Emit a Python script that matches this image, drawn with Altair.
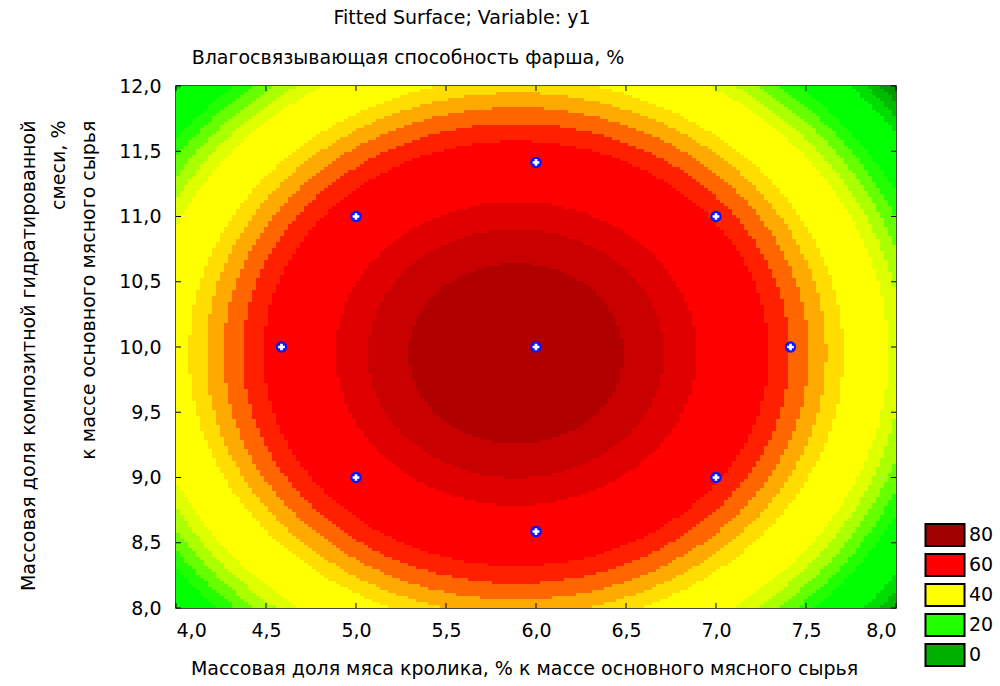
import numpy as np
import pandas as pd
import altair as alt

# ---------------- values ----------------
x_ticks = [4.0, 4.5, 5.0, 5.5, 6.0, 6.5, 7.0, 7.5, 8.0]
y_ticks = [8.0, 8.5, 9.0, 9.5, 10.0, 10.5, 11.0, 11.5, 12.0]

# experimental design points (central composite design)
design_x = [5.0, 5.0, 7.0, 7.0, 4.586, 7.414, 6.0, 6.0, 6.0]
design_y = [9.0, 11.0, 9.0, 11.0, 10.0, 10.0, 8.586, 11.414, 10.0]

# fitted surface: contours are concentric ellipses
surface_center_x = 5.89
surface_center_y = 9.95
surface_y_to_x_ratio = 1.16          # vertical semi-axis / horizontal semi-axis
# horizontal semi-axes of the colour boundaries (x units), from the centre outwards
contour_half_width = [0.596, 0.822, 1.003, 1.403, 1.518, 1.625, 1.722, 1.817,
                      2.067, 2.145, 2.220, 2.292, 2.363, 2.562, 2.625, 2.686, 2.747]
# colour of each band, from the centre outwards (one more than boundaries)
band_colors = ["#b00000", "#c80000", "#e00000", "#ff0000", "#ff2000", "#ff6600",
               "#ffaa00", "#ffdd00", "#ffff00", "#ddff00", "#aaff00", "#66ff00",
               "#22ff00", "#00ff00", "#00dd00", "#00bb00", "#009900", "#007a33"]

legend_labels = ["80", "60", "40", "20", "0"]
legend_colors = ["#a00000", "#ff0000", "#ffff00", "#22ff00", "#00b000"]

title_line1 = "Fitted Surface; Variable:  y1"
title_line2 = "Влагосвязывающая способность фарша, %"
x_title = "Массовая доля мяса кролика, % к массе основного мясного сырья"
y_title = ["Массовая доля композитной гидратированной", "смеси, %",
           "к массе основного мясного сырья"]

# ---------------- build the surface cells ----------------
nx, ny = 180, 174
xe = np.linspace(4.0, 8.0, nx + 1)
ye = np.linspace(8.0, 12.0, ny + 1)
xc = (xe[:-1] + xe[1:]) / 2
yc = (ye[:-1] + ye[1:]) / 2
radii = np.array(contour_half_width)
cells = []
for j in range(ny):
    r = np.sqrt((xc - surface_center_x) ** 2 +
                ((yc[j] - surface_center_y) / surface_y_to_x_ratio) ** 2)
    b = np.searchsorted(radii, r)
    start = 0
    for i in range(1, nx + 1):
        if i == nx or b[i] != b[start]:
            cells.append({"x": xe[start], "x2": xe[i], "y": ye[j], "y2": ye[j + 1],
                          "band": f"b{int(b[start]):02d}"})
            start = i
surf = pd.DataFrame(cells)
band_domain = [f"b{k:02d}" for k in range(len(band_colors))]

# ---------------- chart ----------------
W, H = 720, 522
FONT = "DejaVu Sans"
FS = 19
xs = alt.Scale(domain=[4.0, 8.0], nice=False, zero=False)
ys = alt.Scale(domain=[8.0, 12.0], nice=False, zero=False)
label_expr = "replace(format(datum.value, '.1f'), '.', ',')"

x_axis = alt.Axis(values=x_ticks, labelExpr=label_expr, title=x_title, ticks=False,
                  domain=False, grid=False, labelPadding=13, labelFontSize=FS,
                  labelFont=FONT, labelColor="black", titleFont=FONT,
                  titleFontSize=FS, titleFontWeight="normal", titleColor="black",
                  titleX=348, titleY=60, titleBaseline="middle", titleAlign="center")
y_axis = alt.Axis(values=y_ticks, labelExpr=label_expr, title=y_title, ticks=False,
                  domain=False, grid=False, labelPadding=15, labelFontSize=FS,
                  labelFont=FONT, labelColor="black", titleFont=FONT,
                  titleFontSize=FS, titleFontWeight="normal", titleColor="black",
                  titleAngle=270, titleAlign="right", titleBaseline="top",
                  titleX=-157, titleY=34, titleLineHeight=30)

heat = alt.Chart(surf).mark_rect(strokeWidth=0).encode(
    x=alt.X("x:Q", scale=xs, axis=x_axis),
    x2="x2:Q",
    y=alt.Y("y:Q", scale=ys, axis=y_axis),
    y2="y2:Q",
    fill=alt.Fill("band:N", scale=alt.Scale(domain=band_domain, range=band_colors),
                  legend=None),
)

xt = pd.DataFrame({"x": x_ticks})
yt = pd.DataFrame({"y": y_ticks})
tick_len = 5
ticks_bottom = alt.Chart(xt).mark_rule(color="black", strokeWidth=1).encode(
    x=alt.X("x:Q", scale=xs, axis=x_axis), y=alt.value(H), y2=alt.value(H - tick_len))
ticks_top = alt.Chart(xt).mark_rule(color="black", strokeWidth=1).encode(
    x=alt.X("x:Q", scale=xs, axis=x_axis), y=alt.value(0), y2=alt.value(tick_len))
ticks_left = alt.Chart(yt).mark_rule(color="black", strokeWidth=1).encode(
    y=alt.Y("y:Q", scale=ys, axis=y_axis), x=alt.value(0), x2=alt.value(tick_len))
ticks_right = alt.Chart(yt).mark_rule(color="black", strokeWidth=1).encode(
    y=alt.Y("y:Q", scale=ys, axis=y_axis), x=alt.value(W), x2=alt.value(W - tick_len))

pts = pd.DataFrame({"x": design_x, "y": design_y})
pts_outer = alt.Chart(pts).mark_point(shape="circle", filled=True, color="#0a14ff",
                                      size=130, opacity=1).encode(
    x=alt.X("x:Q", scale=xs, axis=x_axis), y=alt.Y("y:Q", scale=ys, axis=y_axis))
pts_inner = alt.Chart(pts).mark_point(shape="cross", filled=True, color="white",
                                      size=45, opacity=1).encode(
    x=alt.X("x:Q", scale=xs, axis=x_axis), y=alt.Y("y:Q", scale=ys, axis=y_axis))

t1 = alt.Chart(pd.DataFrame({"t": [title_line1]})).mark_text(
    font=FONT, fontSize=FS, color="black", align="center", baseline="middle").encode(
    text="t:N", x=alt.value(286), y=alt.value(-68))
t2 = alt.Chart(pd.DataFrame({"t": [title_line2]})).mark_text(
    font=FONT, fontSize=FS, color="black", align="center", baseline="middle").encode(
    text="t:N", x=alt.value(232), y=alt.value(-28))

leg = alt.Chart(pd.DataFrame({"label": legend_labels})).mark_point(
    filled=True, size=0, strokeWidth=0).encode(
    x=alt.value(W / 2), y=alt.value(H / 2),
    color=alt.Color("label:N",
                    scale=alt.Scale(domain=legend_labels, range=legend_colors),
                    legend=alt.Legend(title=None, orient="none", legendX=754, legendY=434,
                                      symbolType="M-1.42,-0.8H1.42V0.8H-1.42Z",
                                      symbolSize=756, symbolStrokeColor="black",
                                      symbolStrokeWidth=2, symbolOpacity=1,
                                      labelFont=FONT, labelFontSize=FS,
                                      labelColor="black", labelOffset=9,
                                      rowPadding=-3, padding=0)),
)

chart = alt.layer(heat, ticks_bottom, ticks_top, ticks_left, ticks_right,
                  pts_outer, pts_inner, t1, t2, leg).properties(
    width=W, height=H,
    autosize=alt.AutoSizeParams(type="none"),
    padding={"left": 176, "top": 86, "right": 104, "bottom": 78},
    background="white",
).configure_view(stroke="#111111", strokeWidth=1.5)

chart.save("out.html", embed_options={"renderer": "svg", "actions": False})
